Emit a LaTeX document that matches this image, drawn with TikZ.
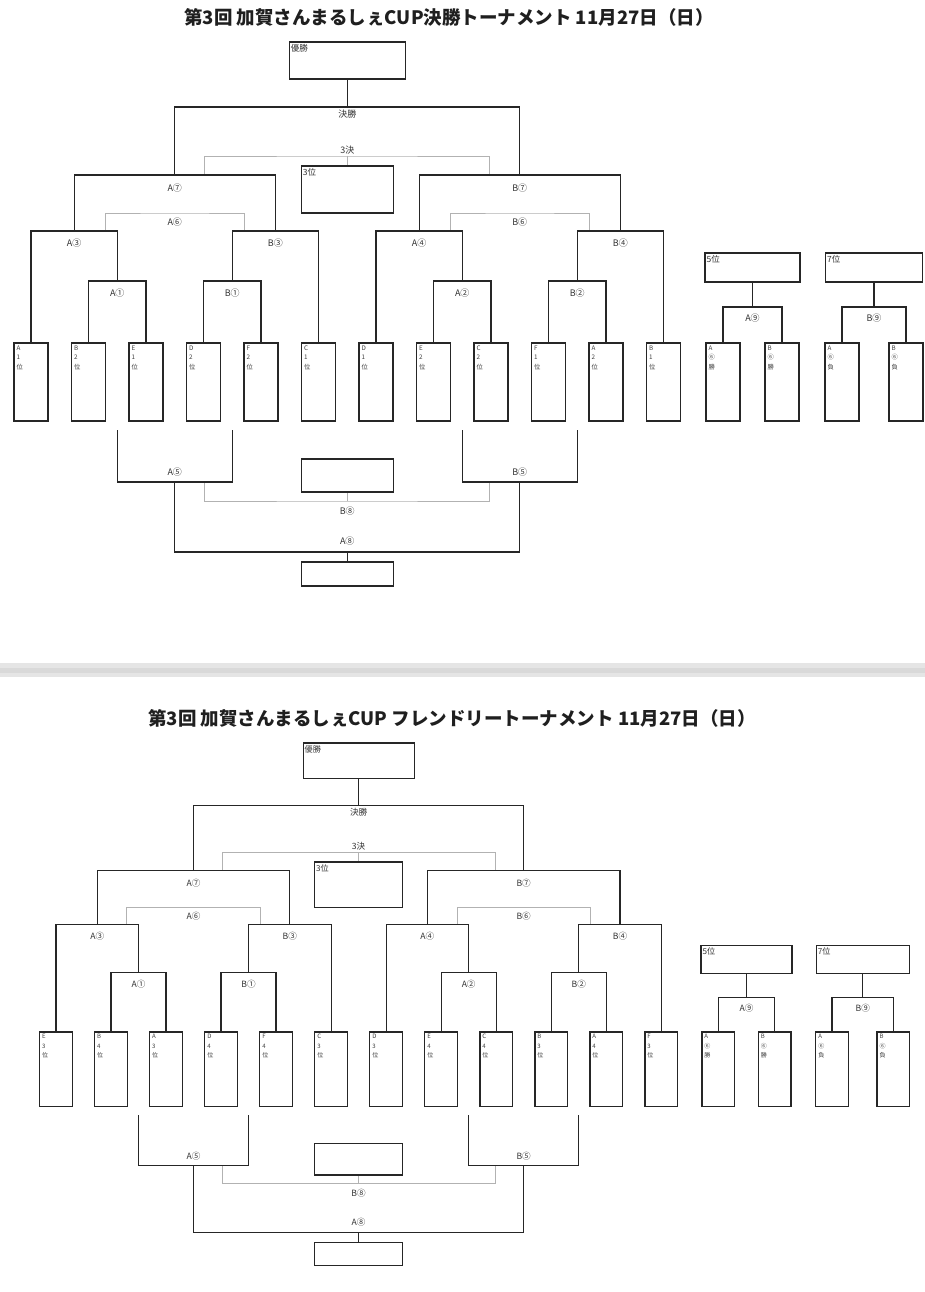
\documentclass[tikz,border=0pt]{standalone}
\usepackage{fontspec}
\setmainfont{Noto Sans CJK JP}
\usetikzlibrary{calc}
\tikzset{
 bline/.style={draw=black!85, line width=1.2pt},
 gline/.style={draw=black!30, line width=0.9pt},
 frame/.style={draw=black!85, line width=1.2pt, rectangle, inner sep=0pt},
 tbox/.style={frame, minimum width=34pt, minimum height=78pt},
 mlab/.style={font=\fontsize{9}{10}\selectfont, text=black!80, inner sep=0pt},
 blab/.style={font=\fontsize{8.5}{10}\selectfont, text=black!80, inner sep=0pt, anchor=north west},
 tlab/.style={font=\fontsize{6.3}{9.5}\selectfont, text=black!75, inner sep=0pt, anchor=north west, align=left},
 ttl/.style={font=\bfseries\fontsize{18.5}{21}\selectfont, text=black!88, inner sep=0pt},
}
\newcommand\tourn[2]{%
 % boxes
 \node[frame, minimum width=116pt, minimum height=37pt] (#1champ) at (347.25,60.5) {};
 \node[blab] (#1champL) at ([xshift=2pt,yshift=-3pt]#1champ.north west) {優勝};
 \node[frame, minimum width=92pt, minimum height=47pt] (#1third) at (347.25,189.5) {};
 \node[blab] (#1thirdL) at ([xshift=2pt,yshift=-3pt]#1third.north west) {3位};
 \node[frame, minimum width=95pt, minimum height=29pt] (#1fifth) at (752.5,267.5) {};
 \node[blab] (#1fifthL) at ([xshift=2pt,yshift=-3pt]#1fifth.north west) {5位};
 \node[frame, minimum width=97pt, minimum height=29pt] (#1seventh) at (874,267.5) {};
 \node[blab] (#1seventhL) at ([xshift=2pt,yshift=-3pt]#1seventh.north west) {7位};
 \node[frame, minimum width=92pt, minimum height=33pt] (#1mid) at (347.25,475.5) {};
 \node[frame, minimum width=92pt, minimum height=24pt] (#1low) at (347.25,574) {};
 % team boxes
 \foreach \a/\b/\c [count=\i] in {#2}{%
   \ifnum\i<13\relax
     \pgfmathsetmacro\xx{31+57.5*(\i-1)}%
   \else
     \pgfmathsetmacro\xx{\i==13?723:(\i==14?782:(\i==15?842:906))}%
   \fi
   \node[tbox] (#1t\i) at (\xx,382) {};
   \node[tlab] (#1l\i) at ([xshift=3pt,yshift=-3pt]#1t\i.north west) {\a\\\b\\\c};
 }
 % coordinates
 \coordinate (#1A1) at (117.25,281); \coordinate (#1B1) at (232.25,281);
 \coordinate (#1A2) at (462.25,281); \coordinate (#1B2) at (577.25,281);
 \coordinate (#1A3) at (74.125,231); \coordinate (#1B3) at (275.375,231);
 \coordinate (#1A4) at (419.125,231); \coordinate (#1B4) at (620.375,231);
 \coordinate (#1A7) at (174.75,175); \coordinate (#1B7) at (519.75,175);
 \coordinate (#1F) at (347.25,107);
 \coordinate (#1T3) at (347.25,156);
 \coordinate (#1T3a) at (204.75,175); \coordinate (#1T3b) at (489.75,175);
 \coordinate (#1A6) at (174.75,213);
 \coordinate (#1A6a) at (105.125,231); \coordinate (#1A6b) at (244.375,231);
 \coordinate (#1B6) at (519.75,213);
 \coordinate (#1B6a) at (450.125,231); \coordinate (#1B6b) at (589.375,231);
 \coordinate (#1A9) at (752.5,307); \coordinate (#1B9) at (874,307);
 \coordinate (#1A5) at (174.75,482);
 \coordinate (#1A5a) at (117.25,430); \coordinate (#1A5b) at (232.25,430);
 \coordinate (#1B5) at (519.75,482);
 \coordinate (#1B5a) at (462.25,430); \coordinate (#1B5b) at (577.25,430);
 \coordinate (#1B8) at (347.25,501);
 \coordinate (#1B8a) at (204.75,482); \coordinate (#1B8b) at (489.75,482);
 \coordinate (#1A8) at (347.25,552);
 % grey (losers) lines
 \draw[gline] (#1T3a) |- (#1T3) -| (#1T3b);
 \draw[gline] (#1T3) -- (#1third.north);
 \draw[gline] (#1A6a) |- (#1A6) -| (#1A6b);
 \draw[gline] (#1B6a) |- (#1B6) -| (#1B6b);
 \draw[gline] (#1B8a) |- (#1B8) -| (#1B8b);
 \draw[gline] (#1B8) -- (#1mid.south);
 % brackets
 \draw[bline] (#1t2.north) |- (#1A1) -| (#1t3.north);
 \draw[bline] (#1t4.north) |- (#1B1) -| (#1t5.north);
 \draw[bline] (#1t8.north) |- (#1A2) -| (#1t9.north);
 \draw[bline] (#1t10.north) |- (#1B2) -| (#1t11.north);
 \draw[bline] (#1t1.north) |- (#1A3) -| (#1A1);
 \draw[bline] (#1B1) |- (#1B3) -| (#1t6.north);
 \draw[bline] (#1t7.north) |- (#1A4) -| (#1A2);
 \draw[bline] (#1B2) |- (#1B4) -| (#1t12.north);
 \draw[bline] (#1A3) |- (#1A7) -| (#1B3);
 \draw[bline] (#1A4) |- (#1B7) -| (#1B4);
 \draw[bline] (#1A7) |- (#1F) -| (#1B7);
 \draw[bline] (#1F) -- (#1champ.south);
 \draw[bline] (#1t13.north) |- (#1A9) -| (#1t14.north);
 \draw[bline] (#1A9) -- (#1fifth.south);
 \draw[bline] (#1t15.north) |- (#1B9) -| (#1t16.north);
 \draw[bline] (#1B9) -- (#1seventh.south);
 \draw[bline] (#1A5a) |- (#1A5) -| (#1A5b);
 \draw[bline] (#1B5a) |- (#1B5) -| (#1B5b);
 \draw[bline] (#1A5) |- (#1A8) -| (#1B5);
 \draw[bline] (#1A8) -- (#1low.north);
 % match labels
 \node[mlab] (#1Lf) at (347.25,114) {決勝};
 \node[mlab] (#1L3k) at (347.25,150) {3決};
 \node[mlab] (#1LA7) at (174.75,188) {A⑦};
 \node[mlab] (#1LB7) at (519.75,188) {B⑦};
 \node[mlab] (#1LA6) at (174.75,222) {A⑥};
 \node[mlab] (#1LB6) at (519.75,222) {B⑥};
 \node[mlab] (#1LA3) at (74.125,243) {A③};
 \node[mlab] (#1LB3) at (275.375,243) {B③};
 \node[mlab] (#1LA4) at (419.125,243) {A④};
 \node[mlab] (#1LB4) at (620.375,243) {B④};
 \node[mlab] (#1LA1) at (117.25,293) {A①};
 \node[mlab] (#1LB1) at (232.25,293) {B①};
 \node[mlab] (#1LA2) at (462.25,293) {A②};
 \node[mlab] (#1LB2) at (577.25,293) {B②};
 \node[mlab] (#1LA9) at (752.5,318) {A⑨};
 \node[mlab] (#1LB9) at (874,318) {B⑨};
 \node[mlab] (#1LA5) at (174.75,472) {A⑤};
 \node[mlab] (#1LB5) at (519.75,472) {B⑤};
 \node[mlab] (#1LB8) at (347.25,511) {B⑧};
 \node[mlab] (#1LA8) at (347.25,541) {A⑧};
}
\begin{document}
\begin{tikzpicture}[x=1pt,y=-1pt]
\useasboundingbox (0,0) rectangle (925,1292);
\fill[white] (0,0) rectangle (925,1292);
\fill[black!10] (0,663) rectangle (925,677);
\fill[black!15] (0,668) rectangle (925,673);
\node[ttl] (title1) at (449,17) {第3回 加賀さんまるしぇCUP決勝トーナメント 11月27日（日）};
\node[ttl] (title2) at (452,718) {第3回 加賀さんまるしぇCUP フレンドリートーナメント 11月27日（日）};
\tourn{u}{A/1/位, B/2/位, E/1/位, D/2/位, F/2/位, C/1/位, D/1/位, E/2/位, C/2/位, F/1/位, A/2/位, B/1/位, A/⑥/勝, B/⑥/勝, A/⑥/負, B/⑥/負}
\begin{scope}[shift={(26.3,702.7)}, xscale=0.957, yscale=0.96, transform shape]
\tourn{l}{E/3/位, B/4/位, A/3/位, D/4/位, F/4/位, C/3/位, D/3/位, E/4/位, C/4/位, B/3/位, A/4/位, F/3/位, A/⑥/勝, B/⑥/勝, A/⑥/負, B/⑥/負}
\end{scope}
\end{tikzpicture}
\end{document}
